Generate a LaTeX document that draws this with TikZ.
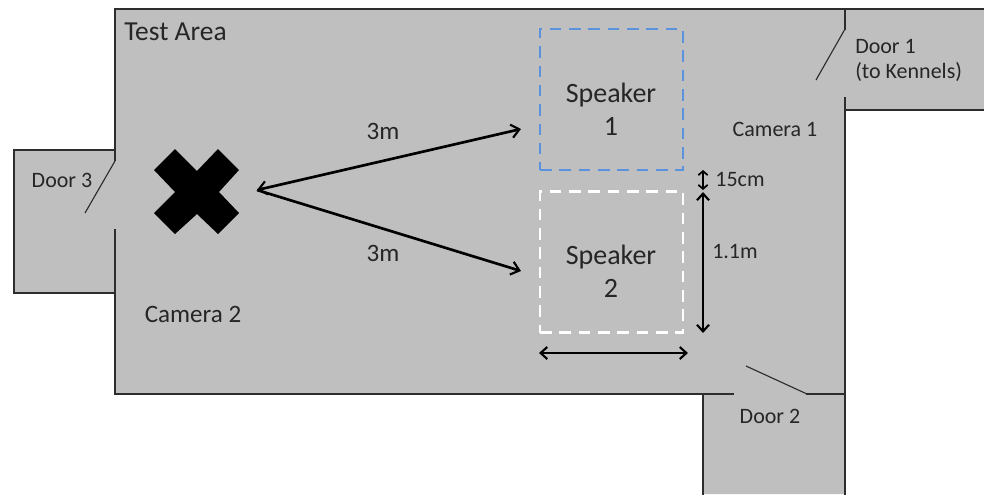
\documentclass[tikz,border=0pt]{standalone}
\usepackage{fontspec}
\setmainfont{Carlito}
\usetikzlibrary{arrows.meta}
\definecolor{floorgrey}{RGB}{191,191,191}
\definecolor{wallcol}{RGB}{45,45,45}
\definecolor{txtcol}{RGB}{38,38,38}
\definecolor{spkblue}{RGB}{91,146,222}
\tikzset{
  x=0.75pt,y=-0.75pt,
  wall/.style={draw=wallcol,line width=1.05pt,line cap=rect},
  doorleaf/.style={draw=wallcol,line width=0.85pt},
  dim/.style={draw=black,line width=2.1pt,{Straight Barb[length=5pt,width=9pt,line width=1.6pt]}-{Straight Barb[length=5pt,width=9pt,line width=1.6pt]}},
  leader/.style={draw=black,line width=2pt,-{Straight Barb[length=6pt,width=10pt,line width=1.6pt]}},
  speaker/.style={minimum width=107.25pt,minimum height=106pt,inner sep=0pt,line width=1.9pt,dash pattern=on 8.7pt off 5.8pt},
  spklab/.style={inner sep=0pt,align=center,text=txtcol,font=\fontsize{21pt}{25pt}\selectfont},
  lab/.style={text=txtcol,inner sep=0pt,align=left,font=\fontsize{16.5pt}{19pt}\selectfont},
  biglab/.style={lab,font=\fontsize{18.8pt}{22pt}\selectfont}
}
\begin{document}
\begin{tikzpicture}
\useasboundingbox (0,0) rectangle (984,494);
% floor
\fill[floorgrey] (115,9) -- (984,9) -- (984,110) -- (845,110) -- (845,494) -- (703,494) -- (703,394) -- (115,394) -- (115,293) -- (14,293) -- (14,150) -- (115,150) -- cycle;
% walls
\draw[wall] (984,9) -- (115,9) -- (115,160);
\draw[wall] (115,150) -- (14,150) -- (14,293) -- (115,293);
\draw[wall] (115,230) -- (115,394) -- (733,394);
\draw[wall] (703,394) -- (703,494);
\draw[wall] (807,394) -- (845,394);
\draw[wall] (845,9) -- (845,29);
\draw[wall] (845,98) -- (845,494);
\draw[wall] (845,110) -- (984,110);
% door leaves
\draw[doorleaf] (115,161) -- (85,213);
\draw[doorleaf] (845,29) -- (816,80);
\draw[doorleaf] (807,394) -- (746,366);
% cross
\fill[black] (175,149) -- (197,171) -- (218,149) -- (239,170) -- (219,192) -- (239,213) -- (218,234) -- (197,214) -- (175,234) -- (154,213) -- (175,192) -- (154,170) -- cycle;
% speakers
\node[speaker,draw=spkblue] (s1) at (611.5,99.5) {};
\node[speaker,draw=white] (s2) at (611.5,262) {};
\node[spklab] (s1t) at (611,109) {Speaker\\1};
\node[spklab] (s2t) at (611,271) {Speaker\\2};
% labels
\node[lab,anchor=west,font=\fontsize{20.6pt}{24pt}\selectfont] (title) at (124,32) {Test Area};
\node[lab] (d3) at (62,180) {Door 3};
\node[lab,anchor=west] (d1) at (855,60.5) {Door 1\\(to Kennels)};
\node[lab] (d2) at (770,416) {Door 2};
\node[lab] (c1) at (775,129) {Camera 1};
\node[biglab] (c2) at (193,314) {Camera 2};
\node[biglab] (m1) at (383,131) {3m};
\node[biglab] (m2) at (383,253) {3m};
\node[lab] (cm) at (740,179) {15cm};
\node[lab] (m11) at (735,251) {1.1m};
% arrow end points
\coordinate (xtip) at (257,190);
\coordinate (a1) at (521,129);
\coordinate (a2) at (521,271);
\coordinate (v0) at (703,170);
\coordinate (v1) at (703,190);
\coordinate (v2) at (703,192);
\coordinate (v3) at (703,333);
\coordinate (h0) at (539,353);
\coordinate (h1) at (688,353);
\draw[leader,{Straight Barb[length=6pt,width=10pt,line width=1.6pt]}-{Straight Barb[length=6pt,width=10pt,line width=1.6pt]}] (xtip) -- (a1);
\draw[leader] (xtip) -- (a2);
\draw[dim,{Straight Barb[length=3pt,width=7pt,line width=1.3pt]}-{Straight Barb[length=3pt,width=7pt,line width=1.3pt]}] (v0) -- (v1);
\draw[dim] (v2) -- (v3);
\draw[dim] (h0) -- (h1);
\end{tikzpicture}
\end{document}
